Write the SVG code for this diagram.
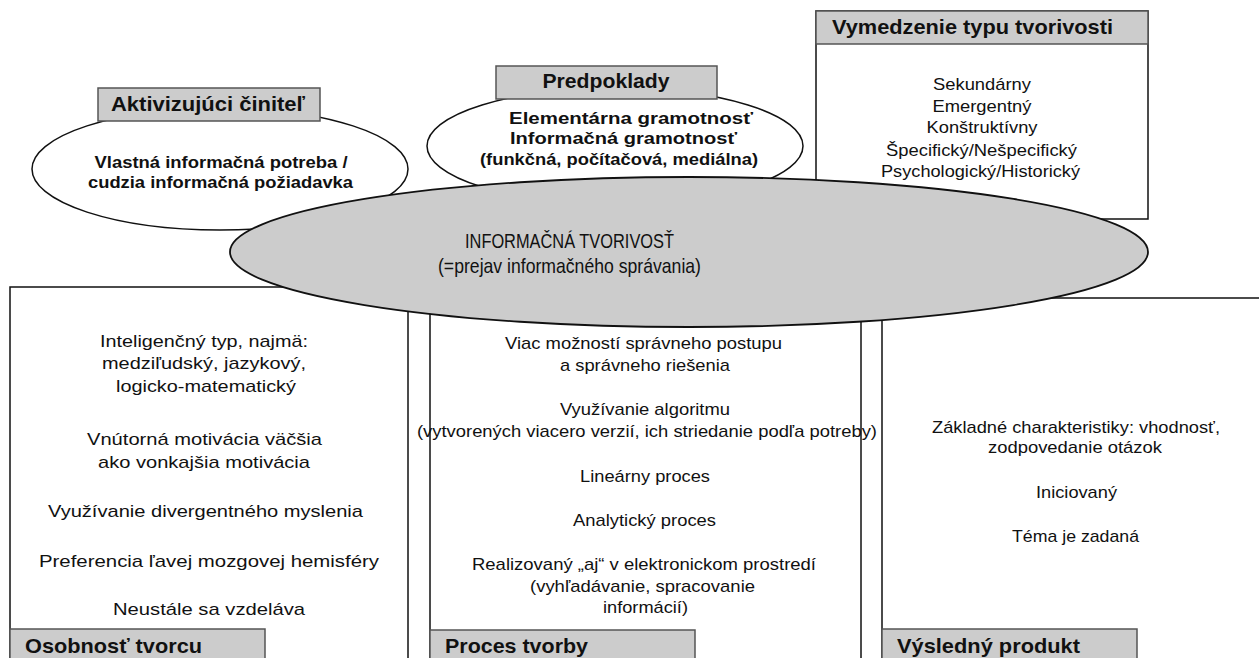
<svg xmlns="http://www.w3.org/2000/svg" width="1259" height="658" viewBox="0 0 1259 658">
<style>
.box{fill:#fff;stroke:#111;stroke-width:1.5}
.lab{fill:#cccccc;stroke:#555;stroke-width:1.5}
.ell{fill:#fff;stroke:#111;stroke-width:1.5}
.core{fill:#cccccc;stroke:#111;stroke-width:1.8}
text{font-family:"Liberation Sans",Arial,sans-serif;fill:#111}
.t{font-size:17px;text-anchor:middle}
.h{font-size:21px;font-weight:bold}
.hm{font-size:21px;font-weight:bold;text-anchor:middle}
.b{font-size:16px;font-weight:bold;text-anchor:middle}
.c{font-size:21px;text-anchor:middle}
</style>
<rect width="1259" height="658" fill="#fff"/>
<g id="connectors"></g>
<g id="osobnost">
<rect class="box" x="10" y="287" width="398" height="390"/>
<text class="t" x="204" y="347" textLength="208" lengthAdjust="spacingAndGlyphs">Inteligenčný typ, najmä:</text>
<text class="t" x="204" y="369" textLength="204" lengthAdjust="spacingAndGlyphs">medziľudský, jazykový,</text>
<text class="t" x="206" y="392" textLength="180" lengthAdjust="spacingAndGlyphs">logicko-matematický</text>
<text class="t" x="204.5" y="445" textLength="235" lengthAdjust="spacingAndGlyphs">Vnútorná motivácia väčšia</text>
<text class="t" x="204" y="468" textLength="212" lengthAdjust="spacingAndGlyphs">ako vonkajšia motivácia</text>
<text class="t" x="205.5" y="517" textLength="315" lengthAdjust="spacingAndGlyphs">Využívanie divergentného myslenia</text>
<text class="t" x="209" y="567" textLength="340" lengthAdjust="spacingAndGlyphs">Preferencia ľavej mozgovej hemisféry</text>
<text class="t" x="209" y="615" textLength="192" lengthAdjust="spacingAndGlyphs">Neustále sa vzdeláva</text>
<rect class="lab" x="10" y="629" width="255" height="40"/>
<text class="h" x="25" y="653" textLength="177" lengthAdjust="spacingAndGlyphs">Osobnosť tvorcu</text>
</g>
<g id="proces">
<rect class="box" x="430" y="300" width="431" height="380"/>
<text class="t" x="643.5" y="349" textLength="277" lengthAdjust="spacingAndGlyphs">Viac možností správneho postupu</text>
<text class="t" x="645" y="371" textLength="170" lengthAdjust="spacingAndGlyphs">a správneho riešenia</text>
<text class="t" x="645" y="415" textLength="170" lengthAdjust="spacingAndGlyphs">Využívanie algoritmu</text>
<text class="t" x="647" y="437" textLength="460" lengthAdjust="spacingAndGlyphs">(vytvorených viacero verzií, ich striedanie podľa potreby)</text>
<text class="t" x="645" y="482" textLength="130" lengthAdjust="spacingAndGlyphs">Lineárny proces</text>
<text class="t" x="644.5" y="526" textLength="143" lengthAdjust="spacingAndGlyphs">Analytický proces</text>
<text class="t" x="644" y="570" textLength="344" lengthAdjust="spacingAndGlyphs">Realizovaný „aj“ v elektronickom prostredí</text>
<text class="t" x="642.5" y="592" textLength="225" lengthAdjust="spacingAndGlyphs">(vyhľadávanie, spracovanie</text>
<text class="t" x="645.5" y="613" textLength="85" lengthAdjust="spacingAndGlyphs">informácií)</text>
<rect class="lab" x="430" y="630" width="265" height="40"/>
<text class="h" x="445" y="653" textLength="143" lengthAdjust="spacingAndGlyphs">Proces tvorby</text>
</g>
<g id="produkt">
<rect class="box" x="882" y="298" width="400" height="380"/>
<text class="t" x="1076" y="433" textLength="288" lengthAdjust="spacingAndGlyphs">Základné charakteristiky: vhodnosť,</text>
<text class="t" x="1075" y="453" textLength="174" lengthAdjust="spacingAndGlyphs">zodpovedanie otázok</text>
<text class="t" x="1076.5" y="498" textLength="81" lengthAdjust="spacingAndGlyphs">Iniciovaný</text>
<text class="t" x="1075.5" y="542" textLength="127" lengthAdjust="spacingAndGlyphs">Téma je zadaná</text>
<rect class="lab" x="882" y="629" width="255" height="40"/>
<text class="h" x="897" y="653" textLength="183" lengthAdjust="spacingAndGlyphs">Výsledný produkt</text>
</g>
<g id="vymedzenie">
<rect class="box" x="816" y="11" width="332" height="208"/>
<rect class="lab" x="816" y="11" width="332" height="33"/>
<text class="h" x="832" y="34" textLength="281" lengthAdjust="spacingAndGlyphs">Vymedzenie typu tvorivosti</text>
<text class="t" x="982" y="90" textLength="98" lengthAdjust="spacingAndGlyphs">Sekundárny</text>
<text class="t" x="982" y="112" textLength="99" lengthAdjust="spacingAndGlyphs">Emergentný</text>
<text class="t" x="982" y="133" textLength="111" lengthAdjust="spacingAndGlyphs">Konštruktívny</text>
<text class="t" x="981.5" y="156" textLength="191" lengthAdjust="spacingAndGlyphs">Špecifický/Nešpecifický</text>
<text class="t" x="980.5" y="177" textLength="199" lengthAdjust="spacingAndGlyphs">Psychologický/Historický</text>
</g>
<g id="aktivizujuci">
<ellipse class="ell" cx="220" cy="169" rx="188" ry="61"/>
<rect class="lab" x="98" y="88" width="222" height="33"/>
<text class="hm" x="208" y="111" textLength="194" lengthAdjust="spacingAndGlyphs">Aktivizujúci činiteľ</text>
<text class="b" x="221" y="168" textLength="253" lengthAdjust="spacingAndGlyphs">Vlastná informačná potreba /</text>
<text class="b" x="220.5" y="188" textLength="265" lengthAdjust="spacingAndGlyphs">cudzia informačná požiadavka</text>
</g>
<g id="predpoklady">
<ellipse class="ell" cx="615" cy="146" rx="188" ry="58"/>
<rect class="lab" x="496" y="66" width="221" height="33"/>
<text class="hm" x="606" y="88" textLength="127" lengthAdjust="spacingAndGlyphs">Predpoklady</text>
<text class="b" x="631" y="124" textLength="244" lengthAdjust="spacingAndGlyphs">Elementárna gramotnosť</text>
<text class="b" x="623.5" y="144" textLength="227" lengthAdjust="spacingAndGlyphs">Informačná gramotnosť</text>
<text class="b" x="619" y="165" textLength="278" lengthAdjust="spacingAndGlyphs">(funkčná, počítačová, mediálna)</text>
</g>
<g id="informacna-tvorivost">
<ellipse class="core" cx="689" cy="252" rx="459" ry="75"/>
<text class="c" x="569.5" y="248" textLength="209" lengthAdjust="spacingAndGlyphs">INFORMAČNÁ TVORIVOSŤ</text>
<text class="c" x="569.5" y="273" textLength="263" lengthAdjust="spacingAndGlyphs">(=prejav informačného správania)</text>
</g>
</svg>
